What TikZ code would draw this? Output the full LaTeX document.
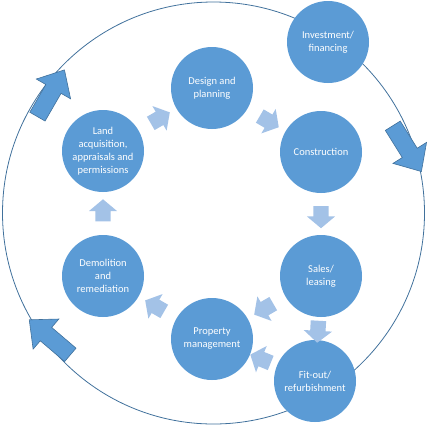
\documentclass[tikz,border=0pt]{standalone}
\usepackage{fontspec}
\setmainfont{Carlito}
\usepackage{xcolor}
\usetikzlibrary{calc,shapes.arrows}

\definecolor{stageblue}{HTML}{5B9BD5}
\definecolor{ringblue}{HTML}{41719C}
\definecolor{paleblue}{HTML}{A3C2E7}

\begin{document}
\begin{tikzpicture}[x=1pt,y=-1pt,
  stage/.style={circle,fill=stageblue,minimum size=82pt,inner sep=0pt,
    text=white,align=center,font=\fontsize{10.5}{13}\selectfont},
  steparrow/.style={single arrow,fill=paleblue,inner xsep=0pt,inner ysep=7.5pt,
    minimum width=0pt,minimum height=22pt,single arrow head extend=6.5pt,
    single arrow tip angle=100},
  cyclearrow/.style={single arrow,fill=stageblue,draw=ringblue,line width=0.6pt,
    inner xsep=0pt,inner ysep=8.5pt,minimum width=0pt,minimum height=54pt,
    single arrow head extend=11pt,single arrow tip angle=84}]
\useasboundingbox (0,0) rectangle (427,426);
\draw[ringblue,line width=0.8pt] (213.5,213) circle (211);
% the stages
\node[stage] (invest) at (328,42) {Investment/\\financing};
\node[stage] (design) at (212,88) {Design and\\planning};
\node[stage] (land) at (103,151) {Land\\acquisition,\\appraisals and\\permissions};
\node[stage] (construct) at (321,152) {Construction};
\node[stage] (demol) at (103,276) {Demolition\\and\\remediation};
\node[stage] (sales) at (321,276) {Sales/\\leasing};
\node[stage] (propmgmt) at (212,339) {Property\\management};
\node[stage] (fitout) at (315,381) {Fit-out/\\refurbishment};
% small arrows between stages
\foreach \a/\b in {land/design,design/construct,construct/sales,sales/fitout,
    sales/propmgmt,fitout/propmgmt,propmgmt/demol,demol/land}
  \path let \p1=($(\b)-(\a)$), \n1={atan2(\y1,\x1)} in
    node[steparrow,rotate=\n1] (\a-\b) at ($(\a)!0.5!(\b)$) {};
% arrows on the big ring
\node[cyclearrow,rotate=60] (ringnw) at (48.5,97.5) {};
\node[cyclearrow,rotate=-58] (ringe) at (404.5,144.5) {};
\node[cyclearrow,rotate=139.5] (ringsw) at (53.5,340.5) {};
\end{tikzpicture}
\end{document}
